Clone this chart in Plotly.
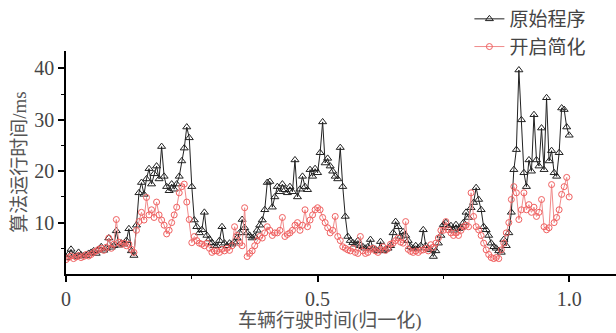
import plotly.graph_objects as go

x_vals = [round(i * 0.005, 3) for i in range(201)]

orig_ms = [
    3.2, 3.8, 4.8, 3.6, 3.4, 4.2, 3.7, 3.5, 3.6, 4.0,
    4.2, 4.5, 4.0, 4.8, 5.3, 4.6, 5.0, 7.0, 5.2, 5.5,
    8.4, 5.6, 6.0, 5.8, 6.5, 8.8, 4.5, 3.6, 9.5, 15.8,
    17.8, 15.5, 18.5, 20.5, 17.5, 19.5, 21.0, 18.5, 24.8, 19.0,
    17.0, 16.2, 17.5, 16.5, 17.5, 19.0, 22.0, 24.5, 28.6, 26.5,
    17.0, 10.5, 9.2, 8.0, 8.6, 12.0, 7.5, 6.8, 6.1, 5.5,
    5.5, 6.5, 9.2, 6.0, 5.5, 6.0, 5.8, 6.2, 7.0, 8.0,
    10.6, 9.0, 8.0, 7.5, 7.0, 7.3, 8.5, 9.5, 10.5, 12.5,
    17.8, 18.0, 13.0, 15.0, 17.0, 16.0, 17.5, 16.4, 15.8, 17.0,
    16.0, 22.2, 15.0, 16.5, 19.0, 17.0, 16.4, 20.3, 19.0, 20.5,
    19.7, 23.6, 29.6, 21.6, 22.5, 21.0, 20.0, 19.0, 18.5, 24.6,
    17.0, 11.2, 7.3, 6.5, 6.1, 5.8, 6.5, 5.5, 5.3, 5.0,
    5.3, 6.7, 5.0, 4.8, 4.5, 6.3, 4.5, 4.8, 5.0, 5.5,
    8.0, 10.2, 9.2, 7.3, 8.2, 7.5, 6.5, 5.3, 5.0, 5.5,
    5.0, 5.5, 8.6, 5.5, 5.0, 4.7, 3.4, 4.5, 6.0, 7.5,
    9.6, 10.0, 9.0, 9.4, 8.5, 9.6, 8.8, 9.0, 10.0, 12.0,
    11.0, 12.9, 13.9, 16.8, 14.5, 12.5, 9.2, 8.6, 7.5, 6.0,
    5.3, 5.0, 4.5, 4.2, 6.7, 5.5, 8.0, 12.0, 20.3, 24.2,
    39.7, 30.0, 19.7, 17.0, 22.2, 20.0, 31.0, 22.2, 21.0, 28.4,
    20.3, 34.3, 22.0, 24.0, 19.7, 19.0, 23.6, 32.3, 32.0, 28.6,
    27.0,
]

simpl_ms = [
    2.8, 3.2, 3.5, 3.0, 3.3, 3.6, 3.2, 3.4, 3.8, 3.5,
    3.8, 4.2, 4.5, 4.8, 5.0, 4.6, 5.2, 7.0, 5.0, 5.8,
    10.6, 6.2, 5.8, 6.0, 5.5, 5.8, 4.8, 4.2, 8.5, 10.2,
    12.0, 10.5, 14.9, 11.5, 12.5, 11.0, 14.0, 11.5, 10.5, 9.5,
    7.8, 8.5, 10.0, 11.5, 13.0, 15.8, 17.0, 17.5, 14.0, 10.6,
    6.1, 7.3, 6.5, 6.0, 5.8, 5.5, 6.0, 5.0, 4.2, 4.5,
    4.5, 4.2, 4.8, 4.5, 5.0, 4.6, 5.5, 9.2, 7.5, 6.0,
    5.5, 12.9, 3.4, 4.0, 4.5, 5.5, 6.5, 7.3, 7.0, 8.0,
    9.2, 8.5, 7.5, 8.0, 8.0, 8.5, 11.0, 7.3, 7.7, 8.0,
    8.5, 9.5, 10.0, 8.5, 9.5, 12.5, 9.2, 10.5, 11.5, 12.5,
    12.9, 12.5, 11.0, 10.0, 9.0, 8.0, 8.5, 11.2, 7.3, 6.5,
    5.3, 5.0, 4.7, 4.5, 5.0, 4.2, 4.0, 7.3, 4.5, 4.0,
    4.2, 4.8, 5.0, 4.5, 4.2, 4.8, 5.3, 4.6, 5.0, 5.8,
    6.0, 6.5, 7.0, 6.2, 6.0, 10.2, 4.8, 4.4, 4.2, 4.5,
    4.2, 4.6, 4.7, 5.0, 4.5, 5.7, 5.2, 6.0, 7.0, 8.5,
    8.5, 10.2, 8.6, 8.0, 7.5, 8.0, 7.5, 8.5, 9.2, 9.5,
    9.2, 15.8, 11.2, 9.2, 8.6, 7.5, 6.0, 4.7, 3.8, 3.2,
    3.0, 3.2, 3.0, 4.7, 6.0, 8.0, 10.0, 14.5, 17.0, 15.8,
    10.6, 12.5, 15.8, 12.5, 13.5, 12.0, 13.0, 11.2, 12.0, 14.5,
    9.2, 8.6, 9.0, 17.4, 10.0, 11.0, 12.5, 15.5, 17.0, 18.8,
    15.0,
]

series_names = ["原始程序", "开启简化"]
x_tickvals = [0, 0.5, 1.0]
x_ticktext = ["0", "0.5", "1.0"]
y_tickvals = [10, 20, 30, 40]

FONT = "Liberation Serif, Times New Roman, Noto Sans CJK SC, serif"

fig = go.Figure()
fig.add_trace(go.Scatter(
    x=x_vals, y=orig_ms, name=series_names[0], mode="lines+markers",
    line=dict(color="#222222", width=1),
    marker=dict(symbol="triangle-up-open", size=7, color="#222222", line=dict(width=1)),
))
fig.add_trace(go.Scatter(
    x=x_vals, y=simpl_ms, name=series_names[1], mode="lines+markers",
    line=dict(color="#f08a8a", width=1),
    marker=dict(symbol="circle-open", size=6, color="#f06060", line=dict(width=1)),
))

fig.update_layout(
    width=616, height=333,
    margin=dict(l=66, r=0, t=51, b=59, autoexpand=False),
    paper_bgcolor="white", plot_bgcolor="white",
    font=dict(family=FONT, size=20, color="#444444"),
    showlegend=True,
    legend=dict(
        xref="container", yref="container",
        x=0.762, xanchor="left", y=1.0, yanchor="top",
        bgcolor="rgba(0,0,0,0)", font=dict(size=19, color="#444444"),
        itemwidth=30, tracegroupgap=0,
    ),
    xaxis=dict(
        range=[0, 1.093], showgrid=False, zeroline=False, automargin=False,
        showline=True, linecolor="black", linewidth=1.5,
        ticks="outside", ticklen=6, tickwidth=1.5, tickcolor="black",
        tickvals=x_tickvals, ticktext=x_ticktext,
        minor=dict(tickvals=[0.25, 0.75], ticks="outside", ticklen=3, tickcolor="black", tickwidth=1),
        tickfont=dict(size=20, color="#444444"),
    ),
    yaxis=dict(
        range=[0, 43.4], showgrid=False, zeroline=False, automargin=False,
        showline=True, linecolor="black", linewidth=1.5,
        ticks="outside", ticklen=6, tickwidth=1.5, tickcolor="black",
        tickvals=y_tickvals,
        minor=dict(tickvals=[5, 15, 25, 35], ticks="outside", ticklen=3, tickcolor="black", tickwidth=1),
        tickfont=dict(size=20, color="#444444"),
    ),
    annotations=[
        dict(
            text="车辆行驶时间(归一化)", xref="paper", yref="paper",
            x=0.48, y=-0.21, xanchor="center", yanchor="middle", showarrow=False,
            font=dict(size=19, color="#555555"),
        ),
        dict(
            text="算法运行时间/ms", xref="paper", yref="paper", textangle=-90,
            x=-0.085, y=0.5, xanchor="center", yanchor="middle", showarrow=False,
            font=dict(size=19, color="#555555"),
        ),
    ],
)

fig.write_html("out.html", config={"displayModeBar": False},
               post_script="document.body.style.margin='0';")
